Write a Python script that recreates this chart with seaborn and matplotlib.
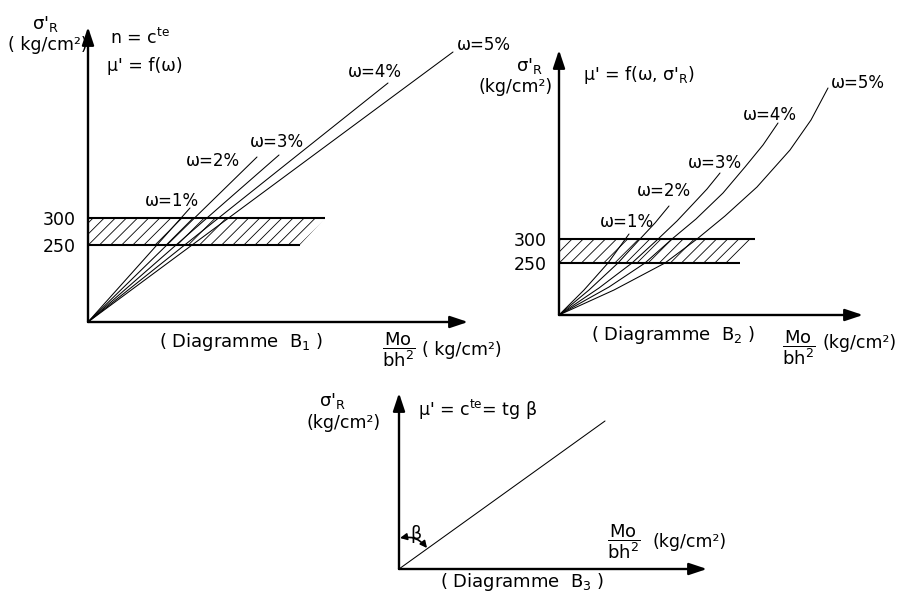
import numpy as np
import pandas as pd
import matplotlib
matplotlib.use("Agg")
import matplotlib.pyplot as plt
from matplotlib.patches import Polygon, FancyArrowPatch
import seaborn as sns

# ---------------- data (diagram units) ----------------
omegas = ["ω=1%", "ω=2%", "ω=3%", "ω=4%", "ω=5%"]

# Diagram B1 : straight rays from the origin (end points)
b1_x_end = [102, 169, 191, 300, 365]
b1_y_end = [114, 165, 167, 239, 270]

# Diagram B2 : curves
b2_x = [
    [0, 25, 49, 70],
    [0, 30, 59, 81, 96, 110],
    [0, 40, 73, 98, 118, 134, 148, 161],
    [0, 50, 86, 113, 137, 164, 186, 204, 219],
    [0, 55, 106, 138, 166, 198, 231, 252, 269],
]
b2_y = [
    [0, 25, 52, 81],
    [0, 25, 52, 76, 92, 109],
    [0, 27, 52, 75, 94, 111, 126, 142],
    [0, 28, 52, 76, 96, 122, 148, 170, 192],
    [0, 25, 52, 76, 99, 128, 165, 195, 227],
]

# Diagram B3 : one ray
b3_x = [0, 206]
b3_y = [0, 148]

tick_labels = ["250", "300"]
b1_tick_pos = [77, 104]
b2_tick_pos = [52, 76]
b1_band_end = [212, 237]     # right ends of the 250 / 300 lines
b2_band_end = [181, 196]
b1_hatch_end = [212, 237]
b2_hatch_end = [175, 193]

# ---------------- figure ----------------
sns.set_theme(style="white")
plt.rcParams["font.family"] = ["DejaVu Sans"]
plt.rcParams["mathtext.fontset"] = "dejavusans"
plt.rcParams["hatch.linewidth"] = 0.6
plt.rcParams["text.color"] = "black"
plt.rcParams["ytick.color"] = "black"
plt.rcParams["ytick.labelcolor"] = "black"

W, H = 904, 601
fig = plt.figure(figsize=(W / 100, H / 100), dpi=100)
fig.patch.set_facecolor("white")


def make_ax(ox, oy, xt, yt):
    ax = fig.add_axes([ox / W, 1 - oy / H, (xt - ox) / W, (oy - yt) / H])
    ax.set_xlim(0, xt - ox)
    ax.set_ylim(0, oy - yt)
    ax.patch.set_alpha(0)
    for s in ax.spines.values():
        s.set_visible(False)
    ax.set_xticks([])
    ax.set_yticks([])
    arrow = dict(arrowstyle="-|>,head_length=0.9,head_width=0.3", lw=1.7,
                 color="black", shrinkA=0, shrinkB=0)
    ax.annotate("", xy=(1, 0), xytext=(0, 0), xycoords="axes fraction",
                textcoords="axes fraction", arrowprops=arrow)
    ax.annotate("", xy=(0, 1), xytext=(0, 0), xycoords="axes fraction",
                textcoords="axes fraction", arrowprops=arrow)
    return ax


def ftxt(x, y, s, size=12, ha="center", va="center", **kw):
    fig.text(x / W, 1 - y / H, s, ha=ha, va=va, fontsize=size, color="black", **kw)


def band(ax, pos, line_end, hatch_end):
    poly = Polygon([(0, pos[0]), (hatch_end[0], pos[0]), (hatch_end[1], pos[1]), (0, pos[1])],
                   closed=True, facecolor="none", edgecolor="black", lw=0, hatch="///")
    ax.add_patch(poly)
    for p, e in zip(pos, line_end):
        ax.plot([0, e], [p, p], color="black", lw=1.5, solid_capstyle="butt")
    ax.set_yticks(pos, labels=tick_labels)
    ax.tick_params(axis="y", length=0, pad=9, labelsize=12.5, labelcolor="black")


# ---- B1 ----
ax1 = make_ax(88, 322, 468, 27)
rows = []
for w, xe, ye in zip(omegas, b1_x_end, b1_y_end):
    rows += [dict(omega=w, x=0, y=0), dict(omega=w, x=xe, y=ye)]
df1 = pd.DataFrame(rows)
sns.lineplot(data=df1, x="x", y="y", units="omega", estimator=None, sort=False,
             color="black", lw=0.75, ax=ax1, legend=False)
band(ax1, b1_tick_pos, b1_band_end, b1_hatch_end)
ax1.set_xlabel(""); ax1.set_ylabel("")

# ---- B2 ----
ax2 = make_ax(559, 315, 863, 50)
rows = []
for w, xs, ys in zip(omegas, b2_x, b2_y):
    for xx, yy in zip(xs, ys):
        rows.append(dict(omega=w, x=xx, y=yy))
df2 = pd.DataFrame(rows)
sns.lineplot(data=df2, x="x", y="y", units="omega", estimator=None, sort=False,
             color="black", lw=0.75, ax=ax2, legend=False)
band(ax2, b2_tick_pos, b2_band_end, b2_hatch_end)
ax2.set_xlabel(""); ax2.set_ylabel("")

# ---- B3 ----
ax3 = make_ax(399, 569, 707, 393)
df3 = pd.DataFrame(dict(x=b3_x, y=b3_y))
sns.lineplot(data=df3, x="x", y="y", sort=False, color="black", lw=0.75, ax=ax3)
ax3.set_xlabel(""); ax3.set_ylabel("")
arc = FancyArrowPatch((1, 31), (28, 21), connectionstyle="arc3,rad=-0.3",
                      arrowstyle="<|-|>,head_length=4,head_width=2", lw=1.2,
                      color="black", shrinkA=0, shrinkB=0)
ax3.add_patch(arc)

# ---------------- texts ----------------
sig = r"σ$'_{\mathrm{R}}$"
frac = r"$\dfrac{\mathrm{Mo}}{\mathrm{bh}^{2}}$"

# B1
ftxt(46, 24, sig, size=13)
ftxt(48, 45, "( kg/cm²)", size=12.5)
ftxt(110, 38, r"n = c$^{\mathrm{te}}$", size=12.5, ha="left")
ftxt(107, 66, "μ' = f(ω)", size=12.5, ha="left")
b1_lab = [(172, 201), (213, 161), (277, 142), (375, 72), (484, 45)]
for s, (x, y) in zip(omegas, b1_lab):
    ftxt(x, y, s, size=12)
ftxt(241, 342, "( Diagramme  B$_1$ )", size=13)
ftxt(399, 350, frac, size=13)
ftxt(462, 350, "( kg/cm²)", size=12.5)

# B2
ftxt(530, 66, sig, size=13)
ftxt(516, 87, "(kg/cm²)", size=12.5)
ftxt(583, 75, r"μ' = f(ω, σ$'_{\mathrm{R}}$)", size=12.5, ha="left")
b2_lab = [(627, 222), (664, 191), (715, 163), (770, 115), (858, 83)]
for s, (x, y) in zip(omegas, b2_lab):
    ftxt(x, y, s, size=12)
ftxt(673, 335, "( Diagramme  B$_2$ )", size=13)
ftxt(799, 348, frac, size=13)
ftxt(860, 343, "(kg/cm²)", size=12.5)

# B3
ftxt(333, 401, sig, size=13)
ftxt(344, 423, "(kg/cm²)", size=12.5)
ftxt(418, 410, r"μ' = c$^{\mathrm{te}}$= tg β", size=12.5, ha="left")
ftxt(416, 534, "β", size=12.5)
ftxt(624, 542, frac, size=13)
ftxt(690, 542, "(kg/cm²)", size=12.5)
ftxt(522, 582, "( Diagramme  B$_3$ )", size=13)

fig.savefig("out.png", dpi=100, facecolor="white")
